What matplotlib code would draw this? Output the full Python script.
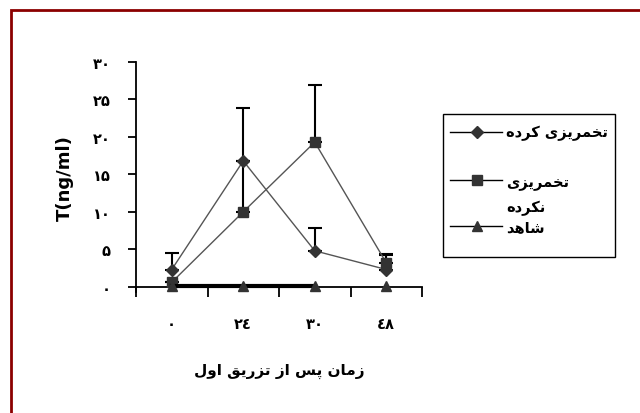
import matplotlib
matplotlib.use("Agg")
import matplotlib.pyplot as plt
from matplotlib.lines import Line2D
from matplotlib.patches import Rectangle

# Arabic presentation forms: (isolated, final[, initial, medial])
FORMS = {
    'ا': ('\uFE8D', '\uFE8E'),
    'د': ('\uFEA9', '\uFEAA'),
    'ر': ('\uFEAD', '\uFEAE'),
    'ز': ('\uFEAF', '\uFEB0'),
    'و': ('\uFEED', '\uFEEE'),
    'ت': ('\uFE95', '\uFE96', '\uFE97', '\uFE98'),
    'خ': ('\uFEA5', '\uFEA6', '\uFEA7', '\uFEA8'),
    'س': ('\uFEB1', '\uFEB2', '\uFEB3', '\uFEB4'),
    'ش': ('\uFEB5', '\uFEB6', '\uFEB7', '\uFEB8'),
    'ق': ('\uFED5', '\uFED6', '\uFED7', '\uFED8'),
    'ل': ('\uFEDD', '\uFEDE', '\uFEDF', '\uFEE0'),
    'م': ('\uFEE1', '\uFEE2', '\uFEE3', '\uFEE4'),
    'ن': ('\uFEE5', '\uFEE6', '\uFEE7', '\uFEE8'),
    'ه': ('\uFEE9', '\uFEEA', '\uFEEB', '\uFEEC'),
    'ی': ('\uFBFC', '\uFBFD', '\uFBFE', '\uFBFF'),
    'ک': ('\uFB8E', '\uFB8F', '\uFB90', '\uFB91'),
    'پ': ('\uFB56', '\uFB57', '\uFB58', '\uFB59'),
}


def fa(text):
    # shape persian letters and put them in visual (left to right) order
    out = []
    for i, ch in enumerate(text):
        if ch not in FORMS:
            out.append(ch)
            continue
        prev = text[i - 1] if i > 0 else ''
        nxt = text[i + 1] if i + 1 < len(text) else ''
        jp = prev in FORMS and len(FORMS[prev]) == 4
        jn = len(FORMS[ch]) == 4 and nxt in FORMS
        f = FORMS[ch]
        if jp and jn:
            out.append(f[3])
        elif jp:
            out.append(f[1])
        elif jn:
            out.append(f[2])
        else:
            out.append(f[0])
    return ''.join(out[::-1])


FONT = ['DejaVu Sans']

# data
hours = ['۰', '۲٤', '۳۰', '٤۸']
y_ticks = [0, 5, 10, 15, 20, 25, 30]
y_labels = ['۰', '۵', '۱۰', '۱۵', '۲۰', '۲۵', '۳۰']

treated = [2.3, 16.8, 4.8, 2.3]
treated_err = [2.2, 0.0, 3.1, 2.0]
untreated = [0.6, 10.0, 19.3, 3.2]
untreated_err = [0.0, 13.9, 7.6, 1.2]
control = [0.1, 0.1, 0.1, 0.1]

names = ['تخمریزی کرده', 'تخمریزی\nنکرده', 'شاهد']

fig = plt.figure(figsize=(6.4, 4.14), dpi=100)
ax = fig.add_axes([136 / 640, 1 - 293 / 414, 286 / 640, 230 / 414])

x = list(range(len(hours)))
dark = '#333333'

ax.errorbar(x, treated, yerr=[[0] * 4, treated_err], fmt='none',
            ecolor='black', elinewidth=1.5, capsize=5, capthick=1.5)
ax.errorbar(x, untreated, yerr=[[0] * 4, untreated_err], fmt='none',
            ecolor='black', elinewidth=1.5, capsize=5, capthick=1.5)
ax.plot(x, treated, color='#555555', lw=1, marker='D', ms=6.5,
        mfc=dark, mec=dark, zorder=3)
ax.plot(x, untreated, color='#555555', lw=1, marker='s', ms=7.5,
        mfc=dark, mec=dark, zorder=3)
ax.plot(x[:3], control[:3], color='black', lw=3, zorder=3)
ax.plot(x, control, ls='none', marker='^', ms=7, mfc=dark, mec=dark,
        zorder=4)

ax.set_xlim(-0.5, 3.5)
ax.set_ylim(-0.7, 30)
for s in ['top', 'right']:
    ax.spines[s].set_visible(False)
ax.spines['bottom'].set_position(('data', 0))
ax.spines['left'].set_linewidth(1.3)
ax.spines['bottom'].set_linewidth(1.3)

ax.set_yticks(y_ticks)
ax.set_yticklabels(y_labels, family=FONT, fontweight='bold', fontsize=10.5)
ax.tick_params(axis='y', direction='out', length=6, width=1.3, pad=12)

ax.set_xticks(x)
ax.set_xticklabels(hours, family=FONT, fontweight='bold', fontsize=10.5)
ax.set_xticks([-0.5, 0.5, 1.5, 2.5, 3.5], minor=True)
ax.tick_params(axis='x', which='major', length=0, pad=21)
ax.tick_params(axis='x', which='minor', direction='out', length=7,
               width=1.3)

ax.set_ylabel('T(ng/ml)', family=FONT, fontweight='bold', fontsize=13,
              labelpad=14)
ax.set_xlabel(fa('زمان پس از تزریق اول'), family=FONT, fontweight='bold',
              fontsize=11, labelpad=23)

# overlay in pixel coordinates for the frame and legend box
ov = fig.add_axes([0, 0, 1, 1], zorder=5)
ov.set_xlim(0, 640)
ov.set_ylim(414, 0)
ov.axis('off')
ov.plot([11, 11, 640], [414, 11, 11], color='#8b0000', lw=2,
        solid_joinstyle='miter')

ov.add_patch(Rectangle((443, 115), 172, 143, fill=False, ec='black', lw=1))
markers = ['D', 's', '^']
sizes = [6.5, 7.5, 7]
rows = [133, 181, 227]
text_rows = [133, 196, 228]
for m, ms, yr, yt, nm in zip(markers, sizes, rows, text_rows, names):
    ov.add_line(Line2D([450, 502], [yr, yr], color='black', lw=1))
    ov.add_line(Line2D([477], [yr], marker=m, ms=ms, mfc=dark, mec=dark))
    label = '\n'.join(fa(p) for p in nm.split('\n'))
    ov.text(506, yt, label, family=FONT, fontweight='bold', fontsize=10.5,
            ha='left', va='center', linespacing=1.8)

fig.savefig('out.png', dpi=100)
